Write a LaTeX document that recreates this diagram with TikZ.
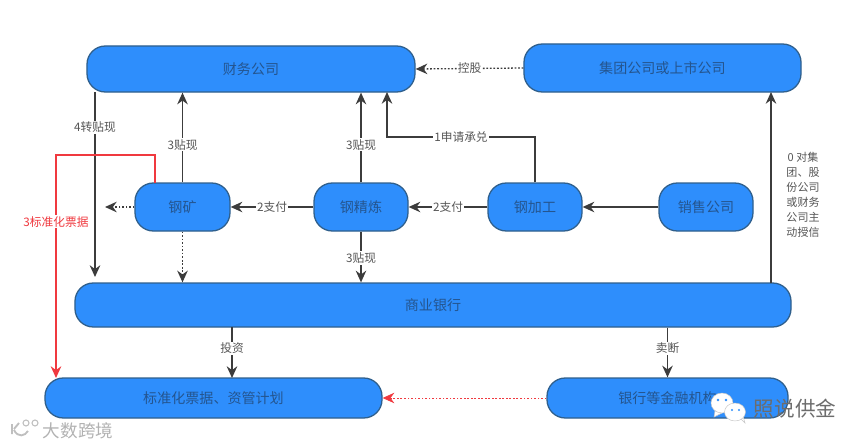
\documentclass[tikz,border=0pt]{standalone}
\usepackage{fontspec}
\setmainfont{Noto Sans CJK SC}
\usepackage{xcolor}
\usetikzlibrary{arrows.meta,positioning,calc}
\definecolor{boxblue}{HTML}{2E8EFC}
\definecolor{boxedge}{HTML}{2F5F8C}
\definecolor{boxtext}{HTML}{24558F}
\definecolor{linkgray}{HTML}{3C3C3C}
\definecolor{textgray}{HTML}{555555}
\definecolor{notered}{HTML}{F0393F}
\tikzset{
  bluebox/.style={draw=boxedge,fill=boxblue,line width=1.1pt,rounded corners=0.55cm,
                  text=boxtext,font=\fontsize{12}{14}\selectfont,inner sep=0pt},
  link/.style={-{Stealth[length=10pt,width=9pt]},line width=1.1pt,draw=linkgray},
  linkdot/.style={link,dash pattern=on 1.5pt off 1.5pt},
  linkred/.style={-{Stealth[length=10pt,width=9pt]},line width=1.1pt,draw=notered},
  linkreddot/.style={linkred,line width=0.7pt,dash pattern=on 1.5pt off 1.5pt},
  tag/.style={fill=white,text=textgray,inner sep=1pt,font=\fontsize{10}{12}\selectfont},
  bubble/.style={fill=white,draw=gray!45,line width=0.4pt},
}
\begin{document}
\begin{tikzpicture}[x=0.03cm,y=-0.03cm]
  \useasboundingbox (0,0) rectangle (864,447);
  \node[bluebox,minimum width=9.84cm,minimum height=1.38cm] (caiwu) at (251,69) {财务公司};
  \node[bluebox,minimum width=8.31cm,minimum height=1.44cm] (jituan) at (662.5,68) {集团公司或上市公司};
  \node[bluebox,minimum width=2.85cm,minimum height=1.44cm] (kuang) at (182.5,207) {钢矿};
  \node[bluebox,minimum width=2.82cm,minimum height=1.44cm] (jinglian) at (361,207) {钢精炼};
  \node[bluebox,minimum width=2.82cm,minimum height=1.44cm] (jiagong) at (535,207) {钢加工};
  \node[bluebox,minimum width=2.82cm,minimum height=1.44cm] (xiaoshou) at (706,207) {销售公司};
  \node[bluebox,minimum width=21.48cm,minimum height=1.32cm] (yinhang) at (433,305) {商业银行};
  \node[bluebox,minimum width=10.11cm,minimum height=1.2cm] (piaoju) at (213.5,398) {标准化票据、资管计划};
  \node[bluebox,minimum width=7.23cm,minimum height=1.2cm] (jigou) at (667.5,398) {银行等金融机构};
  % free ends
  \coordinate (zhuanstart) at (95,92);
  \coordinate (zhuanend) at (95,277);
  \coordinate (redstart) at (155,183);
  \coordinate (redtop) at (155,155);
  \coordinate (redleft) at (56,155);
  \coordinate (redend) at (56,378);
  \coordinate (kuangleft) at (105,207);
  \coordinate (chengdui) at (535,137);
  \coordinate (chengduiend) at (387,92);
  \coordinate (shouxinstart) at (771,283);
  \coordinate (shouxinend) at (771,92);
  \coordinate (touzistart) at (232,327);
  \coordinate (touziend) at (232,378);
  % upper links
  \draw[linkdot] (jituan.west) -- node[tag] (konggu) {控股} (caiwu.east);
  \draw[link] (jiagong.north) -- (chengdui) -| node[tag,pos=0.25] (shenqing) {1申请承兑} (chengduiend);
  \draw[link] (kuang.north) -- node[tag,pos=0.42] (tiexian1) {3贴现} (kuang.north |- caiwu.south);
  \draw[link] (jinglian.north) -- node[tag,pos=0.42] (tiexian2) {3贴现} (jinglian.north |- caiwu.south);
  \draw[link] (zhuanstart) -- node[tag,pos=0.19] (zhuantie) {4转贴现} (zhuanend);
  \draw[linkred] (redstart) -- (redtop) -- (redleft) -- node[tag,text=notered,pos=0.3] (biaozhun) {3标准化票据} (redend);
  % middle row
  \draw[linkdot] (kuang.west) -- (kuangleft);
  \draw[link] (jinglian.west) -- node[tag] (zhifu1) {2支付} (kuang.east);
  \draw[link] (jiagong.west) -- node[tag] (zhifu2) {2支付} (jinglian.east);
  \draw[link] (xiaoshou.west) -- (jiagong.east);
  % down to the bank
  \draw[linkdot] (kuang.south) -- (kuang.south |- yinhang.north);
  \draw[link] (jinglian.south) -- node[tag,pos=0.52] (tiexian3) {3贴现} (jinglian.south |- yinhang.north);
  \draw[link] (shouxinstart) -- (shouxinend);
  \node[text=textgray,align=center,font=\fontsize{9.4}{12.8}\selectfont] (shouxin) at (803,195)
    {0 对集\\团、股\\份公司\\或财务\\公司主\\动授信};
  % lower links
  \draw[link] (touzistart) -- node[tag,pos=0.42] (touzi) {投资} (touziend);
  \draw[link] (yinhang.south -| jigou.north) -- node[tag,pos=0.42] (maiduan) {卖断} (jigou.north);
  \draw[linkreddot] (jigou.west) -- (piaoju.east);
  % watermarks
  \draw[gray!50,line width=1.6pt] (12,424) -- (12,434) (14,429) -- (19,423) (14,430) .. controls (18,438) and (25,436) .. (28,431);
  \draw[gray!50,line width=0.9pt] (26,423) circle (3) (35,423) circle (3);
  \node[text=gray!60,font=\fontsize{15}{17}\selectfont] (dashu) at (78,431) {大数跨境};
  \draw[bubble] (715,411) -- (714,417) -- (722,413) -- cycle;
  \fill[bubble] (722,403) ellipse (11 and 10);
  \draw[bubble] (741,419) -- (745,423) -- (743,416) -- cycle;
  \fill[bubble] (735,412) ellipse (10.5 and 9);
  \fill[boxblue] (718,400) circle (1.3) (726,400) circle (1.3) (732,410) circle (1.2) (739,410) circle (1.2);
  \node[text=gray!85!black,font=\fontsize{17.6}{20}\selectfont] (zhaoshuo) at (795,409) {照说供金};
\end{tikzpicture}
\end{document}
